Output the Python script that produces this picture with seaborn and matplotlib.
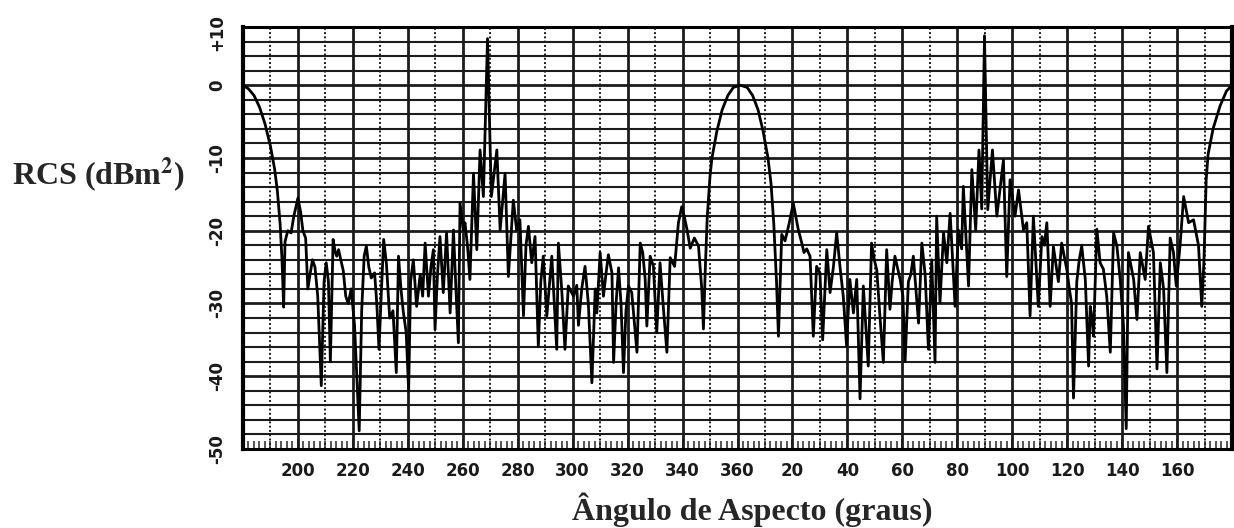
import numpy as np
import pandas as pd
import matplotlib
matplotlib.use("Agg")
import matplotlib.pyplot as plt
import seaborn as sns

# ---- data (aspect angle unwrapped 180..540 deg, RCS in dBm2)
angle_deg = [
    180.0, 182.0, 184.0, 186.0, 188.0, 190.0, 191.5, 192.5, 193.5, 194.2, 194.8, 195.3, 196.3, 197.5, 198.5,
    200.0, 201.0, 201.8, 202.8, 203.6, 204.4, 205.3, 206.2, 207.2, 208.5, 209.5, 210.3, 211.1, 211.8, 212.8,
    213.5, 214.1, 214.8, 215.6, 216.5, 217.4, 218.3, 219.4, 220.6, 222.3, 223.2, 224.1, 224.9, 225.8, 226.7,
    227.9, 228.7, 229.5, 230.3, 231.2, 232.2, 233.4, 234.6, 235.8, 236.6, 237.5, 238.3, 239.4, 240.3, 241.0,
    242.0, 243.2, 244.5, 245.4, 246.3, 247.5, 248.4, 249.3, 249.9, 250.8, 251.7, 252.9, 254.1, 255.4, 256.6,
    257.5, 258.4, 259.0, 260.2, 260.8, 261.7, 262.6, 263.9, 265.1, 266.3, 267.5, 269.0, 270.4, 272.4, 273.6,
    275.4, 276.6, 278.4, 279.6, 280.8, 282.1, 283.0, 283.9, 285.1, 286.3, 287.5, 288.4, 289.3, 290.6, 292.4,
    294.2, 294.8, 296.0, 297.2, 298.4, 300.3, 301.5,
    302.1, 303.3, 304.5, 305.7, 307.0, 308.2, 308.8, 310.0, 311.2, 312.1, 313.0, 314.3, 314.9, 315.8, 316.7,
    317.6, 318.5, 319.4, 320.3, 321.5, 323.4, 324.6, 325.5, 326.4, 327.0, 328.2, 329.4, 330.6, 331.8, 333.1,
    334.3, 335.5, 337.1, 338.5, 339.7, 340.6, 341.6, 342.8, 344.3, 345.8, 347.0, 347.6,
    348.3, 349.0, 350.0, 350.7, 352.5, 354.4, 356.5, 358.5, 361.0, 363.5, 365.5, 367.5, 369.3, 371.1, 372.2,
    373.2, 374.2, 374.9,
    376.1, 377.3, 378.8, 380.3, 381.2, 382.1, 383.4, 384.2, 385.2, 386.4, 387.6, 388.8, 390.0, 391.0, 392.5,
    393.7, 394.9, 396.1, 397.3, 398.5, 399.7, 400.9, 402.2, 403.4, 404.6, 405.8, 407.6, 408.8, 409.8, 410.7,
    411.9, 413.1, 414.3, 415.5, 416.3, 417.3, 419.2, 420.2, 421.0,
    422.2, 423.1, 424.0, 425.9, 427.1, 428.3, 429.5, 430.7, 431.9, 432.5, 433.7, 435.0, 436.2, 437.4, 439.2,
    440.4, 441.6, 442.2, 444.1, 445.3, 446.7, 447.9, 448.9, 449.9, 451.1, 452.8, 454.4, 456.8, 458.0, 459.2,
    461.0, 462.3, 464.1, 465.3, 466.5, 467.7, 469.5, 470.8, 471.7, 472.6, 473.8, 475.0, 476.8, 478.0, 479.9,
    480.8,
    481.6, 482.3, 483.5, 484.4, 485.3, 486.6, 487.8, 488.4, 489.0, 489.6, 490.8, 492.0, 493.2, 494.4, 495.7,
    496.9, 498.1, 499.3, 500.5, 501.5, 502.3, 504.2, 505.4, 506.6, 508.4, 509.6, 511.4, 512.7, 513.9, 515.1,
    516.3, 517.5, 518.7, 519.7, 521.1, 522.4, 524.2, 526.0, 527.8, 529.0, 529.8, 530.6, 531.3, 533.1, 535.7,
    538.0, 540.0,
]
rcs_dbsm = [
    0.0, -0.5, -1.4, -3.0, -5.3, -8.4, -11.5, -14.5, -19.0, -24.0, -30.5, -21.5, -20.0, -20.3, -18.0,
    -15.5, -17.5, -20.0, -21.0, -28.0, -26.0, -24.0, -25.0, -29.0, -41.3, -27.0, -24.4, -27.0, -38.0, -21.2,
    -22.8, -23.5, -22.6, -24.0, -25.5, -29.0, -30.0, -28.0, -33.0, -47.5, -31.0, -23.5, -22.1, -25.0, -26.5,
    -25.8, -30.0, -36.3, -29.0, -21.2, -24.5, -32.0, -31.0, -39.5, -23.5, -28.0, -31.0, -34.0, -42.0, -27.0,
    -24.0, -30.4, -26.0, -29.0, -21.7, -29.0, -25.0, -22.6, -33.6, -26.0, -20.8, -28.5, -20.3, -31.3, -19.9,
    -28.0, -35.4, -16.2, -19.9, -18.9, -22.0, -26.7, -12.1, -22.6, -8.9, -15.3, 6.4, -15.3, -8.9, -19.9,
    -12.1, -26.3, -15.8, -19.9, -18.5, -31.7, -22.0, -19.4, -24.4, -20.8, -35.9, -27.0, -23.5, -31.7, -23.5,
    -36.3, -21.7, -28.0, -36.3, -27.6, -29.0, -27.5,
    -33.0, -28.0, -24.9, -30.0, -40.9, -28.0, -31.3, -23.0, -29.0, -26.0, -23.3, -25.8, -38.1, -30.0, -25.1,
    -30.0, -39.5, -31.0, -27.6, -28.5, -36.7, -21.7, -23.0, -26.7, -33.1, -23.5, -24.9, -34.0, -24.4, -31.0,
    -36.7, -23.7, -24.9, -18.9, -16.7, -18.0, -19.8, -22.4, -21.0, -22.1, -28.0, -33.5,
    -25.0, -18.0, -12.5, -10.0, -6.3, -3.4, -1.4, -0.3, 0.0, -0.3, -1.4, -3.4, -6.3, -10.0, -13.5,
    -19.0, -27.0, -34.5,
    -20.5, -21.4, -19.0, -16.2, -18.0, -19.8, -21.7, -23.0, -22.5, -23.5, -34.5, -24.9, -25.8, -35.0, -22.6,
    -28.5, -25.0, -20.3, -24.9, -29.0, -35.8, -26.7, -31.3, -26.7, -43.1, -27.6, -38.6, -21.7, -24.0, -25.4,
    -32.0, -38.1, -22.6, -30.8, -27.0, -23.5, -26.7, -29.0, -38.0,
    -27.0, -26.0, -23.5, -32.7, -21.7, -26.0, -36.3, -24.0, -38.1, -18.0, -29.9, -20.3, -24.4, -17.6, -30.4,
    -19.9, -22.5, -13.9, -27.6, -11.6, -19.9, -8.9, -17.0, 6.8, -17.1, -8.9, -18.0, -10.3, -26.3, -13.0,
    -18.0, -14.4, -19.9, -18.9, -31.7, -18.0, -30.4, -20.8, -22.0, -18.9, -30.4, -22.2, -27.0, -21.7, -25.4,
    -28.0,
    -30.0, -43.0, -27.0, -24.0, -22.1, -26.7, -38.6, -30.4, -32.0, -34.5, -19.8, -24.4, -25.3, -29.0, -36.7,
    -20.3, -22.1, -26.7, -33.0, -47.2, -23.0, -26.7, -32.2, -23.0, -26.7, -19.4, -23.0, -39.0, -24.4, -28.0,
    -39.5, -21.0, -23.0, -27.6, -22.0, -15.3, -18.9, -18.5, -22.0, -30.4, -24.0, -13.0, -9.5, -6.0, -2.8,
    -0.8, 0.0,
]

x_tick_values = [200, 220, 240, 260, 280, 300, 320, 340, 360, 380, 400, 420, 440, 460, 480, 500, 520]
x_tick_labels = ["200", "220", "240", "260", "280", "300", "320", "340", "360",
                 "20", "40", "60", "80", "100", "120", "140", "160"]
y_tick_values = [7.2, 0, -10, -20, -30, -40, -50]
y_tick_labels = ["+10", "0", "-10", "-20", "-30", "-40", "-50"]

x_label = "Ângulo de Aspecto (graus)"
y_label = r"RCS (dBm$^{\mathbf{2}}$)"

# ---- figure
sns.set_style("white")
plt.rcParams["font.family"] = ["DejaVu Sans"]
plt.rcParams["mathtext.fontset"] = "stix"

fig = plt.figure(figsize=(12.34, 5.28), dpi=100)
ax = fig.add_axes([243 / 1234, 1 - 449 / 528, (1232 - 243) / 1234, (449 - 27) / 528])

ax.set_xlim(180, 540)
ax.set_ylim(-50, 8)

grid_col = "#1c1c1c"
# horizontal chart-paper lines every 2 dB
for yv in np.arange(-48, 8, 2):
    major = (yv % 10 == 0)
    ax.axhline(yv, color=grid_col, lw=2.0 if major else 1.5, zorder=1)
# vertical lines: solid every 20 deg, dotted on the odd 10s
for xv in np.arange(200, 540, 20):
    ax.axvline(xv, color=grid_col, lw=2.0, zorder=1)
for xv in np.arange(190, 540, 20):
    ax.axvline(xv, color=grid_col, lw=1.4, ls=(0, (1, 1.2)), zorder=1)

df = pd.DataFrame({"angle": angle_deg, "rcs": rcs_dbsm})
sns.lineplot(data=df, x="angle", y="rcs", ax=ax, color="black", lw=2.0,
             estimator=None, sort=False, zorder=3)

for s in ax.spines.values():
    s.set_color("black")
    s.set_linewidth(2.2)
ax.spines["left"].set_linewidth(3.0)
ax.spines["right"].set_linewidth(3.0)

ax.set_xticks(x_tick_values)
ax.set_xticklabels(x_tick_labels, fontsize=12, fontweight="bold", color="#1a1a1a")
ax.set_xticks(np.arange(180, 541, 2), minor=True)
ax.tick_params(axis="x", which="major", direction="in", length=7, width=1.3, pad=9, bottom=True)
ax.tick_params(axis="x", which="minor", direction="in", length=6, width=1.1, bottom=True)

ax.set_yticks(y_tick_values)
ax.set_yticklabels(y_tick_labels, fontsize=12, fontweight="bold", rotation=90,
                   va="center", color="#1a1a1a")
ax.tick_params(axis="y", which="both", length=0, pad=12, left=True)

serif = ["Liberation Serif", "DejaVu Serif"]
ax.set_xlabel(x_label, fontsize=23, fontweight="bold", family=serif, va="baseline", ha="center")
ax.xaxis.set_label_coords((752 - 243) / 989, (449 - 520) / 422)
ax.set_ylabel(y_label, fontsize=23, fontweight="bold", family=serif, rotation=0,
              va="baseline", ha="left")
ax.yaxis.set_label_coords((12 - 243) / 989, (449 - 185) / 422)

fig.savefig("out.png", dpi=100, facecolor="white")
